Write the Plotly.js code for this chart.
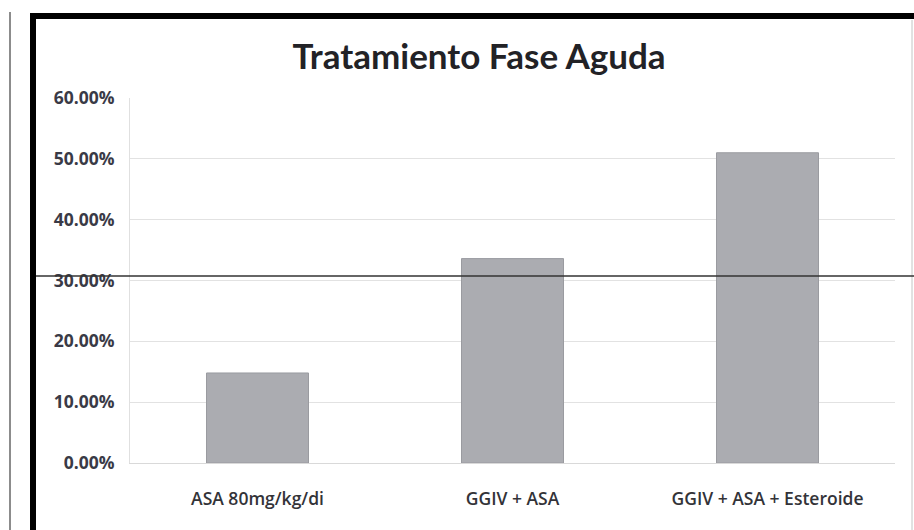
<!DOCTYPE html>
<html>
<head>
<meta charset="utf-8">
<script src="https://cdn.plot.ly/plotly-3.0.1.min.js"></script>
<style>
html,body{margin:0;padding:0;background:#fff;}
#chart{width:914px;height:530px;}
</style>
</head>
<body>
<div id="chart"></div>
<script>
const categories = ["ASA 80mg/kg/di", "GGIV + ASA", "GGIV + ASA + Esteroide"];
const values = [0.148, 0.336, 0.510];
const yTickValues = [0, 0.1, 0.2, 0.3, 0.4, 0.5, 0.6];
const yTickLabels = ["0.00%", "10.00%", "20.00%", "30.00%", "40.00%", "50.00%", "60.00%"];

const W = 914, H = 530;
const M = {l: 130, r: 19, t: 98, b: 67};
const pw = W - M.l - M.r, ph = H - M.t - M.b;
function px(x){ return (x - M.l) / pw; }
function py(y){ return (H - M.b - y) / ph; }

const trace = {
  type: 'bar',
  x: categories,
  y: values,
  width: 0.4,
  marker: {color: '#abacb1', line: {color: '#9a9ba0', width: 1}},
  hoverinfo: 'none'
};

const shapes = [
  {type: 'line', xref: 'paper', yref: 'paper', x0: px(33), x1: px(33), y0: py(14), y1: py(532), line: {color: '#000', width: 6}},
  {type: 'line', xref: 'paper', yref: 'paper', x0: px(30), x1: px(916), y0: py(16), y1: py(16), line: {color: '#000', width: 6}},
  {type: 'line', xref: 'paper', yref: 'paper', x0: px(912), x1: px(912), y0: py(20), y1: py(530), line: {color: '#c4c4c4', width: 1}},
  {type: 'line', xref: 'paper', yref: 'paper', x0: px(10), x1: px(10), y0: py(12), y1: py(532), line: {color: '#666', width: 1.5}},
  {type: 'line', xref: 'paper', yref: 'paper', x0: px(36), x1: px(916), y0: py(276), y1: py(276), line: {color: '#333', width: 1.5}}
];

const layout = {
  width: W, height: H,
  margin: M,
  paper_bgcolor: '#fff',
  plot_bgcolor: '#fff',
  showlegend: false,
  title: {
    text: '<b>Tratamiento Fase Aguda</b>',
    font: {family: 'Lato, "Open Sans", sans-serif', size: 35, color: '#222226'},
    x: 479 / W, xanchor: 'center',
    y: 1 - 57 / H, yanchor: 'middle'
  },
  xaxis: {
    type: 'category',
    showgrid: false,
    showline: true, linecolor: '#d9d9d9', linewidth: 1,
    ticks: '',
    tickfont: {family: '"Open Sans", sans-serif', size: 17.5, color: '#333338', weight: 600},
    ticklabelstandoff: 20
  },
  yaxis: {
    range: [0, 0.6],
    tickvals: yTickValues,
    ticktext: yTickLabels,
    showgrid: true, gridcolor: '#e2e2e2', gridwidth: 1,
    showline: true, linecolor: '#e0e0e0', linewidth: 1,
    zeroline: false,
    ticks: '',
    tickfont: {family: '"Open Sans", sans-serif', size: 17.5, color: '#3a3a46', weight: 'bold'},
    ticklabelstandoff: 11
  },
  shapes: shapes
};

Plotly.newPlot('chart', [trace], layout, {staticPlot: true, displayModeBar: false});
</script>
</body>
</html>
